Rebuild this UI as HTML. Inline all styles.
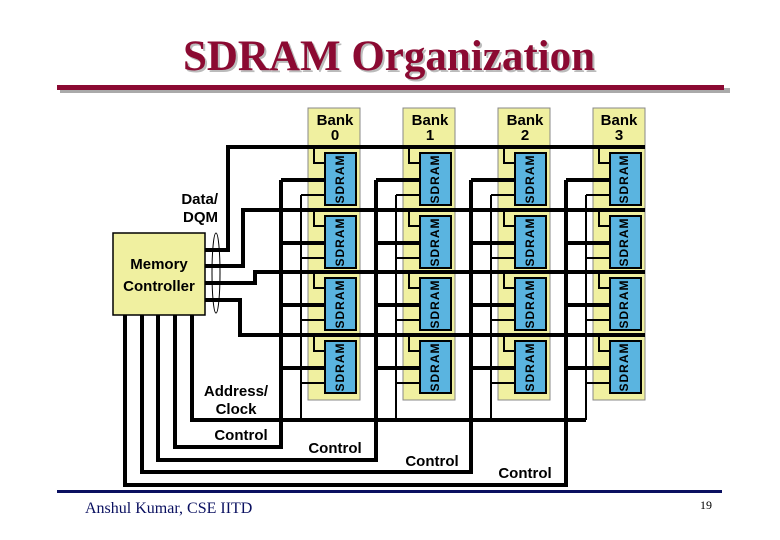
<!DOCTYPE html>
<html><head><meta charset="utf-8"><style>
html,body{margin:0;padding:0;background:#fff;width:780px;height:540px;overflow:hidden}
svg{display:block}
.b{font-family:"Liberation Sans",sans-serif;font-weight:bold;font-size:15px;fill:#000}
.s{font-family:"Liberation Sans",sans-serif;font-weight:bold;font-size:12px;fill:#000;letter-spacing:1px}
</style></head><body>
<svg id="g" width="780" height="540" viewBox="0 0 780 540" xmlns="http://www.w3.org/2000/svg">
<text x="391" y="72" text-anchor="middle" font-family="Liberation Serif,serif" font-weight="bold" font-size="43" fill="#bbb">SDRAM Organization</text>
<text x="389" y="70" text-anchor="middle" font-family="Liberation Serif,serif" font-weight="bold" font-size="43" fill="#8b0a32">SDRAM Organization</text>
<rect x="60" y="88" width="670" height="5" fill="#aaa"/>
<rect x="57" y="85" width="667" height="5" fill="#8b0a32"/>
<rect x="57" y="490" width="665" height="3" fill="#0a1060"/>
<text x="85" y="513" font-family="Liberation Serif,serif" font-size="16" fill="#0a1060">Anshul Kumar, CSE IITD</text>
<text x="700" y="509" font-family="Liberation Serif,serif" font-size="12" fill="#000">19</text>
<g id="shapes"></g>
<g id="labels">
<text class="b" x="335" y="125" text-anchor="middle">Bank</text><text class="b" x="335" y="140" text-anchor="middle">0</text>
<text class="b" x="430" y="125" text-anchor="middle">Bank</text><text class="b" x="430" y="140" text-anchor="middle">1</text>
<text class="b" x="525" y="125" text-anchor="middle">Bank</text><text class="b" x="525" y="140" text-anchor="middle">2</text>
<text class="b" x="619" y="125" text-anchor="middle">Bank</text><text class="b" x="619" y="140" text-anchor="middle">3</text>
<text class="b" x="218" y="204" text-anchor="end">Data/</text><text class="b" x="218" y="222" text-anchor="end">DQM</text>
<text class="b" x="159" y="269" text-anchor="middle">Memory</text><text class="b" x="159" y="291" text-anchor="middle">Controller</text>
<text class="b" x="236" y="396" text-anchor="middle">Address/</text><text class="b" x="236" y="414" text-anchor="middle">Clock</text>
<text class="b" x="241" y="440" text-anchor="middle">Control</text>
<text class="b" x="335" y="453" text-anchor="middle">Control</text>
<text class="b" x="432" y="466" text-anchor="middle">Control</text>
<text class="b" x="525" y="478" text-anchor="middle">Control</text>
<g id="chiptext">
<text class="s" transform="translate(344,179) rotate(-90)" text-anchor="middle">SDRAM</text>
<text class="s" transform="translate(344,242) rotate(-90)" text-anchor="middle">SDRAM</text>
<text class="s" transform="translate(344,304) rotate(-90)" text-anchor="middle">SDRAM</text>
<text class="s" transform="translate(344,367) rotate(-90)" text-anchor="middle">SDRAM</text>
<text class="s" transform="translate(439,179) rotate(-90)" text-anchor="middle">SDRAM</text>
<text class="s" transform="translate(439,242) rotate(-90)" text-anchor="middle">SDRAM</text>
<text class="s" transform="translate(439,304) rotate(-90)" text-anchor="middle">SDRAM</text>
<text class="s" transform="translate(439,367) rotate(-90)" text-anchor="middle">SDRAM</text>
<text class="s" transform="translate(534,179) rotate(-90)" text-anchor="middle">SDRAM</text>
<text class="s" transform="translate(534,242) rotate(-90)" text-anchor="middle">SDRAM</text>
<text class="s" transform="translate(534,304) rotate(-90)" text-anchor="middle">SDRAM</text>
<text class="s" transform="translate(534,367) rotate(-90)" text-anchor="middle">SDRAM</text>
<text class="s" transform="translate(628,179) rotate(-90)" text-anchor="middle">SDRAM</text>
<text class="s" transform="translate(628,242) rotate(-90)" text-anchor="middle">SDRAM</text>
<text class="s" transform="translate(628,304) rotate(-90)" text-anchor="middle">SDRAM</text>
<text class="s" transform="translate(628,367) rotate(-90)" text-anchor="middle">SDRAM</text>
</g>
</g>
</svg>
<script>
(function(){
var NS="http://www.w3.org/2000/svg",g=document.getElementById("shapes");
function el(n,a){var e=document.createElementNS(NS,n);for(var k in a)e.setAttribute(k,a[k]);g.appendChild(e);return e;}
function pl(pts,w){el("polyline",{points:pts,fill:"none",stroke:"#000","stroke-width":w,"stroke-linejoin":"miter"});}
var E=[308,403,498,593],tops=[153,216,278,341],rows=[147,210,272,335];
E.forEach(function(e){el("rect",{x:e,y:108,width:52,height:292,fill:"#f0f0a0",stroke:"#888","stroke-width":1});});
el("rect",{x:113,y:233,width:92,height:82,fill:"#f0f0a0",stroke:"#000","stroke-width":1.5});
pl("205,250 228,250 228,147 645,147",4);
pl("205,266 243,266 243,210 645,210",4);
pl("205,283 255,283 255,272 645,272",4);
pl("205,300 240,300 240,335 645,335",4);
el("ellipse",{cx:216,cy:273,rx:4,ry:40,fill:"none",stroke:"#000","stroke-width":1});
var lx=[175,158,142,125],by=[447,460,472,485];
E.forEach(function(e,b){pl(lx[b]+",315 "+lx[b]+","+by[b]+" "+(e-27)+","+by[b]+" "+(e-27)+",180",4);});
pl("192,315 192,420 586,420",4);
E.forEach(function(e){pl((e-7)+",195 "+(e-7)+",420",2);});
E.forEach(function(e){
 tops.forEach(function(t,r){
  el("rect",{x:e+17,y:t,width:31,height:52,fill:"#5ab4e0",stroke:"#000","stroke-width":2});
  pl((e+6)+","+rows[r]+" "+(e+6)+","+(t+10)+" "+(e+17)+","+(t+10),2);
  pl((e-27)+","+(t+27)+" "+(e+17)+","+(t+27),4);
  pl((e-7)+","+(t+42)+" "+(e+17)+","+(t+42),2);
 });
});
})();
</script>
</body></html>
